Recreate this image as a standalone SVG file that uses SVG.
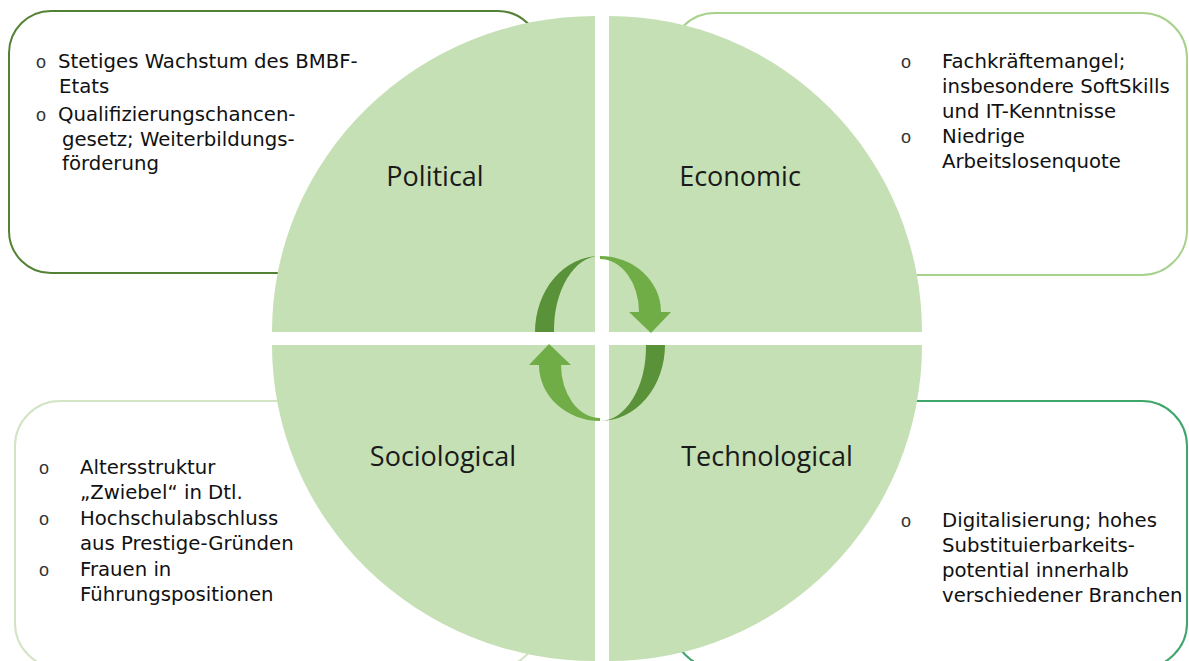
<svg xmlns="http://www.w3.org/2000/svg" width="1189" height="661" viewBox="0 0 1189 661">
  <style>
    .box { fill: #ffffff; stroke-width: 2; }
    .quad { fill: #C5E0B4; }
    .title { font-family: "Open Sans", Lato, sans-serif; font-size: 27px; fill: #1a1a1a; }
    .body { font-family: "DejaVu Sans", Verdana, sans-serif; font-size: 19.7px; fill: #111111; }
    .bul { font-family: "Liberation Sans", Arial, sans-serif; font-size: 18px; fill: #333333; }
    .dark { fill: #5A9239; }
    .light { fill: #70AD47; }
  </style>

  <!-- text boxes behind the circle -->
  <g id="box-political">
    <rect class="box" x="9" y="11" width="531" height="262" rx="42" ry="42" stroke="#548235"/>
  </g>
  <g id="box-economic">
    <rect class="box" x="670" y="13" width="517" height="262" rx="45" ry="45" stroke="#A9D18E"/>
  </g>
  <g id="box-sociological">
    <rect class="box" x="15" y="401" width="525" height="267" rx="45" ry="45" stroke="#D3E4C5"/>
  </g>
  <g id="box-technological">
    <rect class="box" x="672" y="401" width="515" height="267" rx="45" ry="45" stroke="#3FA66B"/>
  </g>

  <!-- four quadrants of the PEST circle -->
  <g id="quad-political">
    <path class="quad" d="M595,332 L272,332 A323,316 0 0 1 595,16 Z"/>
    <text class="title" x="435" y="186" text-anchor="middle">Political</text>
  </g>
  <g id="quad-economic">
    <path class="quad" d="M609,332 L609,16 A313,316 0 0 1 922,332 Z"/>
    <text class="title" x="740" y="186" text-anchor="middle">Economic</text>
  </g>
  <g id="quad-sociological">
    <path class="quad" d="M595,345 L595,661 A323,316 0 0 1 272,345 Z"/>
    <text class="title" x="443" y="466" text-anchor="middle">Sociological</text>
  </g>
  <g id="quad-technological">
    <path class="quad" d="M609,345 L922,345 A313,316 0 0 1 609,661 Z"/>
    <text class="title" x="767" y="466" text-anchor="middle">Technological</text>
  </g>

  <!-- cycle arrows in the centre -->
  <g id="connectors">
    <path class="dark" d="M535,332 A65,76 0 0 1 600,256 A46,74 0 0 0 554,332 Z"/>
    <path class="light" d="M600,256 A61,56 0 0 1 661,312 L671,312 L651,333 L629,312 L639,312 A39,53 0 0 0 600,259 Z"/>
    <path class="dark" d="M665,345 A65,76 0 0 1 600,421 A46,74 0 0 0 646,345 Z"/>
    <path class="light" d="M600,421 A61,56 0 0 1 539,365 L529,365 L549,344 L571,365 L561,365 A39,53 0 0 0 600,418 Z"/>
  </g>

  <!-- bullet texts -->
  <g id="text-political">
    <text class="bul" x="36" y="68">o</text>
    <text class="body" x="58" y="68">Stetiges Wachstum des BMBF-</text>
    <text class="body" x="59" y="93">Etats</text>
    <text class="bul" x="36" y="121">o</text>
    <text class="body" x="58" y="121">Qualifizierungschancen-</text>
    <text class="body" x="62" y="146">gesetz; Weiterbildungs-</text>
    <text class="body" x="62" y="170">förderung</text>
  </g>
  <g id="text-economic">
    <text class="bul" x="901" y="68">o</text>
    <text class="body" x="942" y="68">Fachkräftemangel;</text>
    <text class="body" x="942" y="93">insbesondere SoftSkills</text>
    <text class="body" x="942" y="118">und IT-Kenntnisse</text>
    <text class="bul" x="901" y="143">o</text>
    <text class="body" x="942" y="143">Niedrige</text>
    <text class="body" x="942" y="168">Arbeitslosenquote</text>
  </g>
  <g id="text-sociological">
    <text class="bul" x="39" y="474">o</text>
    <text class="body" x="80" y="474">Altersstruktur</text>
    <text class="body" x="80" y="499">„Zwiebel“ in Dtl.</text>
    <text class="bul" x="39" y="525">o</text>
    <text class="body" x="80" y="525">Hochschulabschluss</text>
    <text class="body" x="80" y="550">aus Prestige-Gründen</text>
    <text class="bul" x="39" y="576">o</text>
    <text class="body" x="80" y="576">Frauen in</text>
    <text class="body" x="80" y="601">Führungspositionen</text>
  </g>
  <g id="text-technological">
    <text class="bul" x="901" y="527">o</text>
    <text class="body" x="942" y="527">Digitalisierung; hohes</text>
    <text class="body" x="942" y="552">Substituierbarkeits-</text>
    <text class="body" x="942" y="577">potential innerhalb</text>
    <text class="body" x="942" y="602">verschiedener Branchen</text>
  </g>
</svg>
